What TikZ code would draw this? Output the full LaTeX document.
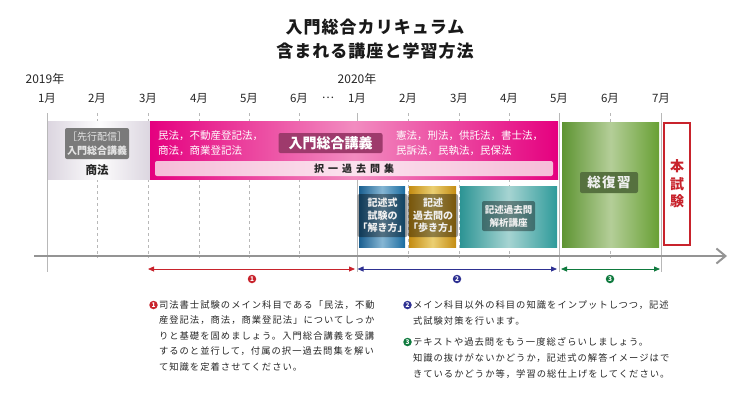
\documentclass[tikz,border=0pt]{standalone}
\usepackage{fontspec}
\setmainfont{Noto Sans CJK JP}
\usetikzlibrary{arrows.meta}
\definecolor{mred}{HTML}{C8232C}
\definecolor{mnavy}{HTML}{2E3192}
\definecolor{mgreen}{HTML}{0F7A3E}
\definecolor{magenta}{HTML}{E5007F}
\definecolor{pinkmid}{HTML}{F28CC0}
\definecolor{gridc}{HTML}{B8B8B8}
\definecolor{berry}{HTML}{9E3A6C}
\definecolor{barside}{HTML}{F6BCD8}
\definecolor{barmid}{HTML}{FBE2EE}
\definecolor{blueA}{HTML}{1A5F90}
\definecolor{blueM}{HTML}{86B6D4}
\definecolor{blueB}{HTML}{1A6CA0}
\definecolor{goldA}{HTML}{C48C12}
\definecolor{goldM}{HTML}{EBCF72}
\definecolor{tealA}{HTML}{2C9494}
\definecolor{tealM}{HTML}{A6D4D2}
\definecolor{tealB}{HTML}{2E9A9A}
\definecolor{grnA}{HTML}{5E9432}
\definecolor{grnM}{HTML}{B4CE98}
\definecolor{grnB}{HTML}{68A034}
\definecolor{grnL}{HTML}{56713F}
\definecolor{lav}{HTML}{DCD6E0}
\newcommand\fs[1]{\fontsize{#1}{#1}\selectfont}
\newcommand\bodyfont{\fontsize{9.3}{12}\selectfont\addfontfeature{LetterSpace=11}}
\begin{document}
\begin{tikzpicture}[x=1pt,y=-1pt,
  every node/.style={inner sep=0pt, outer sep=0pt},
  gsolid/.style={draw=gridc, line width=0.8pt},
  gdash/.style={draw=gridc, line width=0.8pt, dash pattern=on 3pt off 3pt},
  barbox/.style={anchor=north west, draw=none},
  lbl/.style={fill=black, fill opacity=0.38, text opacity=1, text=white!94!black, rounded corners=2pt, align=center, font=\fontsize{10}{12.6}\selectfont\bfseries},
  mon/.style={font=\fs{11.5}, text=black!85},
  body/.style={anchor=west, font=\bodyfont, text=black!85},
  num/.style={circle, minimum size=8.5pt, text=white, font=\fs{6.5}\bfseries},
  brk/.style={line width=0.8pt, {Triangle[length=6pt,width=5pt]}-{Triangle[length=6pt,width=5pt]}}
]
\useasboundingbox (0,0) rectangle (750,400);

% title
\node[font=\fontsize{17}{24}\selectfont\bfseries, align=center, text=black!90] (title) at (375,39)
  {\addfontfeature{LetterSpace=6}入門総合カリキュラム\\\addfontfeature{LetterSpace=6}含まれる講座と学習方法};

% years and months
\node[font=\fs{12}, text=black!85] (y19) at (45,79) {2019年};
\node[font=\fs{12}, text=black!85] (y20) at (357,79) {2020年};
\node[mon] (m1) at (47,98) {1月};
\node[mon] (m2) at (97,98) {2月};
\node[mon] (m3) at (148,98) {3月};
\node[mon] (m4) at (199,98) {4月};
\node[mon] (m5) at (249,98) {5月};
\node[mon] (m6) at (299,98) {6月};
\node[mon] (dots) at (328,98) {…};
\node[mon] (n1) at (357,98) {1月};
\node[mon] (n2) at (408,98) {2月};
\node[mon] (n3) at (459,98) {3月};
\node[mon] (n4) at (509,98) {4月};
\node[mon] (n5) at (559,98) {5月};
\node[mon] (n6) at (610,98) {6月};
\node[mon] (n7) at (661,98) {7月};

% grid lines
\foreach \x in {97,148,199,249,299,408,459,509,610}
  \draw[gdash] (\x,113) -- (\x,258);
\foreach \x in {47,357,559,661}
  \draw[gsolid] (\x,113) -- (\x,272);

% axis
\coordinate (ax0) at (34,256);
\coordinate (ax1) at (727,256);
\draw[draw=black!42, line width=2pt, -{Straight Barb[length=9pt,width=15pt,line width=2pt]}] (ax0) -- (ax1);

% gray box
\node[barbox, minimum width=102pt, minimum height=58pt, left color=lav, right color=lav, middle color=white!93!lav] (gbox) at (48,121) {};
\node[fill=black!52, rounded corners=2pt, minimum width=64pt, minimum height=31pt] (glbl) at (97,143.5) {};
\node[align=center, text=white!90!black, font=\fontsize{10}{14}\selectfont] (gtx) at (97,143.5) {［先行配信］\\{\bfseries 入門総合講義}};
\node[font=\fs{11.5}\bfseries, text=black!85] (gshoho) at (97,170) {商法};

% magenta box
\node[barbox, minimum width=408pt, minimum height=58pt, left color=magenta, right color=magenta, middle color=pinkmid] (mbox) at (150,121) {};
\node[anchor=west, align=left, text=white, font=\fontsize{10.5}{15}\selectfont] (mtl) at (158,143.5) {民法，不動産登記法，\\商法，商業登記法};
\node[fill=berry, rounded corners=2pt, minimum width=104pt, minimum height=20pt, text=white, font=\fs{14}\bfseries] (mlbl) at (330.5,143) {入門総合講義};
\node[anchor=west, align=left, text=white, font=\fontsize{10.5}{15}\selectfont] (mtr) at (396,143.5) {憲法，刑法，供託法，書士法，\\民訴法，民執法，民保法};
\node[barbox, minimum width=398pt, minimum height=15pt, left color=barside, right color=barside, middle color=barmid, rounded corners=2pt] (kbar) at (155,161) {};
\node[font=\fs{10}\bfseries, text=black!85] (ktx) at (354,169) {\addfontfeature{LetterSpace=40}択一過去問集};

% lower boxes
\node[barbox, minimum width=46pt, minimum height=61pt, left color=blueA, right color=blueB, middle color=blueM] (bbox) at (359,186) {};
\node[lbl, minimum width=39pt, minimum height=43pt] (blbl) at (382.5,215.5) {記述式\\試験の\\「解き方」};
\node[barbox, minimum width=47pt, minimum height=61pt, left color=goldA, right color=goldA, middle color=goldM] (obox) at (409,186) {};
\node[lbl, minimum width=42pt, minimum height=43pt] (olbl) at (433,215.5) {記述\\過去問の\\「歩き方」};
\node[barbox, minimum width=97pt, minimum height=61pt, left color=tealA, right color=tealB, middle color=tealM] (tbox) at (460,186) {};
\node[lbl, minimum width=53pt, minimum height=30pt, font=\fontsize{9.5}{13}\selectfont\bfseries] (tlbl) at (508.5,216) {記述過去問\\解析講座};

% green box
\node[barbox, minimum width=97pt, minimum height=125pt, left color=grnA, right color=grnB, middle color=grnM] (grbox) at (562,122) {};
\node[fill=grnL, rounded corners=2pt, minimum width=58pt, minimum height=21pt, text=white!94!black, font=\fs{13.5}\bfseries] (grlbl) at (609,182.5) {\addfontfeature{LetterSpace=10}総復習};

% exam box
\node[barbox, draw=mred, line width=2pt, fill=white, minimum width=26pt, minimum height=122pt] (exbox) at (664,123) {};
\node[align=center, text=mred, font=\fontsize{14}{17.5}\selectfont\bfseries] (extx) at (677,184) {本\\試\\験};

% period brackets
\coordinate (b0) at (148,269);
\coordinate (b1) at (355,269);
\coordinate (b2) at (357.5,269);
\coordinate (b3) at (557,269);
\coordinate (b4) at (561,269);
\coordinate (b5) at (660,269);
\draw[brk, draw=mred, fill=mred] (b0) -- (b1);
\draw[brk, draw=mnavy, fill=mnavy] (b2) -- (b3);
\draw[brk, draw=mgreen, fill=mgreen] (b4) -- (b5);
\node[num, fill=mred] (c1) at (252,279) {1};
\node[num, fill=mnavy] (c2) at (457,279) {2};
\node[num, fill=mgreen] (c3) at (610,279) {3};

% paragraph 1
\node[num, fill=mred] (p1n) at (153.5,305) {1};
\node[body] (p1a) at (159,305) {司法書士試験のメイン科目である「民法，不動};
\node[body] (p1b) at (159,320.5) {産登記法，商法，商業登記法」についてしっか};
\node[body] (p1c) at (159,336) {りと基礎を固めましょう。入門総合講義を受講};
\node[body] (p1d) at (159,351) {するのと並行して，付属の択一過去問集を解い};
\node[body] (p1e) at (159,366.5) {て知識を定着させてください。};

% paragraph 2
\node[num, fill=mnavy] (p2n) at (407.5,305) {2};
\node[body] (p2a) at (413,305) {メイン科目以外の科目の知識をインプットしつつ，記述};
\node[body] (p2b) at (413,320.5) {式試験対策を行います。};

% paragraph 3
\node[num, fill=mgreen] (p3n) at (407.5,342) {3};
\node[body] (p3a) at (413,342) {テキストや過去問をもう一度総ざらいしましょう。};
\node[body] (p3b) at (413,358) {知識の抜けがないかどうか，記述式の解答イメージはで};
\node[body] (p3c) at (413,374) {きているかどうか等，学習の総仕上げをしてください。};
\end{tikzpicture}
\end{document}
